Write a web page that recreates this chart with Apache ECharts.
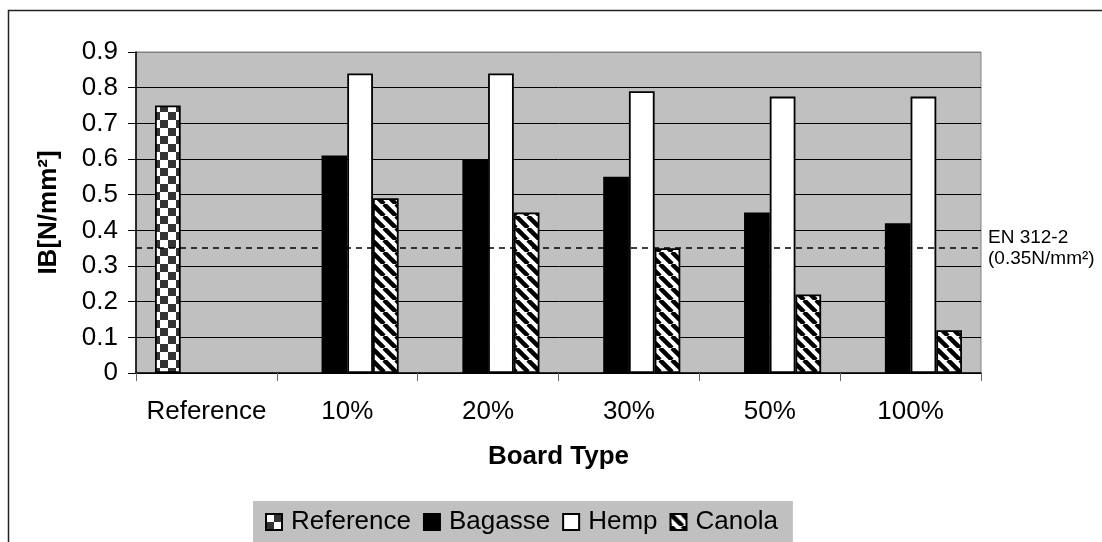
<!DOCTYPE html>
<html>
<head>
<meta charset="utf-8">
<script src="https://cdn.jsdelivr.net/npm/echarts@6/dist/echarts.min.js"></script>
<style>
  html, body { margin: 0; padding: 0; background: #fff; }
  #chart { width: 1102px; height: 542px; }
</style>
</head>
<body>
<div id="chart"></div>
<script>
// 数据
var categories = ['Reference', '10%', '20%', '30%', '50%', '100%'];
var referenceData = [0.75, null, null, null, null, null];
var bagasseData = [null, 0.61, 0.60, 0.55, 0.45, 0.42];
var hempData = [null, 0.84, 0.84, 0.79, 0.775, 0.775];
var canolaData = [null, 0.49, 0.45, 0.35, 0.22, 0.12];
var yTicks = [0, 0.1, 0.2, 0.3, 0.4, 0.5, 0.6, 0.7, 0.8, 0.9];
var standardValue = 0.35; // EN 312-2

var font = "'Liberation Sans', Arial, sans-serif";

// 棋盘格填充
function checkerPattern() {
  var c = document.createElement('canvas');
  c.width = 16; c.height = 16;
  var ctx = c.getContext('2d');
  ctx.fillStyle = '#ffffff';
  ctx.fillRect(0, 0, 16, 16);
  ctx.fillStyle = '#333333';
  ctx.fillRect(8, 0, 8, 8);
  ctx.fillRect(0, 8, 8, 8);
  return c;
}

// 斜线填充
function stripePattern() {
  var c = document.createElement('canvas');
  c.width = 12; c.height = 12;
  var ctx = c.getContext('2d');
  ctx.fillStyle = '#ffffff';
  ctx.fillRect(0, 0, 12, 12);
  ctx.strokeStyle = '#000000';
  ctx.lineWidth = 4.5;
  [-12, 0, 12].forEach(function (k) {
    ctx.beginPath();
    ctx.moveTo(k, 0);
    ctx.lineTo(k + 12, 12);
    ctx.stroke();
  });
  return c;
}

var chart = echarts.init(document.getElementById('chart'));

var barBorder = { borderColor: '#000', borderWidth: 1.8 };

var option = {
  backgroundColor: '#ffffff',
  animation: false,
  graphic: [{
    type: 'rect',
    shape: { x: 8.5, y: 10.5, width: 1200, height: 700 },
    style: { fill: 'none', stroke: '#222', lineWidth: 1.5 },
    silent: true,
    z: -10
  }],
  grid: {
    left: 136,
    right: 121,
    top: 52,
    bottom: 169,
    show: true,
    backgroundColor: '#c0c0c0',
    borderColor: '#808080',
    borderWidth: 1
  },
  legend: {
    left: 253,
    top: 501,
    backgroundColor: '#c0c0c0',
    padding: [8, 15, 20, 12],
    itemWidth: 16,
    itemHeight: 16,
    itemGap: 12,
    icon: 'rect',
    textStyle: { fontFamily: font, fontSize: 26, color: '#000', padding: [0, 0, 0, 4] },
    data: ['Reference', 'Bagasse', 'Hemp', 'Canola']
  },
  xAxis: {
    type: 'category',
    data: categories,
    name: 'Board Type',
    nameLocation: 'middle',
    nameGap: 71,
    nameTextStyle: { fontFamily: font, fontSize: 26, fontWeight: 'bold', color: '#000' },
    axisLine: { lineStyle: { color: '#000', width: 1.5 } },
    axisTick: { show: true, interval: 0, length: 8, lineStyle: { color: '#666' } },
    axisLabel: { interval: 0, fontFamily: font, fontSize: 26, color: '#000', margin: 26 },
    splitLine: { show: false }
  },
  yAxis: {
    type: 'value',
    min: 0,
    max: 0.9,
    interval: 0.1,
    name: 'IB[N/mm²]',
    nameLocation: 'middle',
    nameGap: 74,
    nameTextStyle: { fontFamily: font, fontSize: 26, fontWeight: 'bold', color: '#000' },
    axisLine: { show: true, lineStyle: { color: '#000', width: 1.5 } },
    axisTick: { show: true, length: 8, lineStyle: { color: '#000' } },
    axisLabel: {
      fontFamily: font, fontSize: 26, color: '#000', margin: 18,
      formatter: function (v) {
        var t = yTicks.find(function (x) { return Math.abs(x - v) < 1e-6; });
        return t === 0 ? '0' : (t !== undefined ? t.toFixed(1) : '');
      }
    },
    splitLine: {
      show: true,
      lineStyle: { color: ['#000', '#000', '#000', '#000', '#000', '#000', '#000', '#000', '#000', '#808080'], width: 1 }
    }
  },
  series: [
    {
      name: 'Reference',
      type: 'bar',
      barGap: '0%',
      barCategoryGap: '27%',
      itemStyle: Object.assign({ color: { image: checkerPattern(), repeat: 'repeat' } }, barBorder),
      data: referenceData
    },
    {
      name: 'Bagasse',
      type: 'bar',
      itemStyle: Object.assign({ color: '#000' }, barBorder),
      data: bagasseData
    },
    {
      name: 'Hemp',
      type: 'bar',
      itemStyle: Object.assign({ color: '#fff' }, barBorder),
      data: hempData
    },
    {
      name: 'Canola',
      type: 'bar',
      itemStyle: Object.assign({ color: { image: stripePattern(), repeat: 'repeat' } }, barBorder),
      data: canolaData,
      markLine: {
        silent: true,
        symbol: 'none',
        lineStyle: { color: '#000', type: [6, 5], width: 1.5 },
        label: {
          show: true,
          position: 'end',
          distance: 7,
          formatter: 'EN 312-2\n(0.35N/mm²)',
          fontFamily: font,
          fontSize: 19,
          lineHeight: 21,
          color: '#000',
          align: 'left',
          padding: [0, 0, 16, 0]
        },
        data: [{ yAxis: standardValue }]
      }
    }
  ]
};

chart.setOption(option);
</script>
</body>
</html>
